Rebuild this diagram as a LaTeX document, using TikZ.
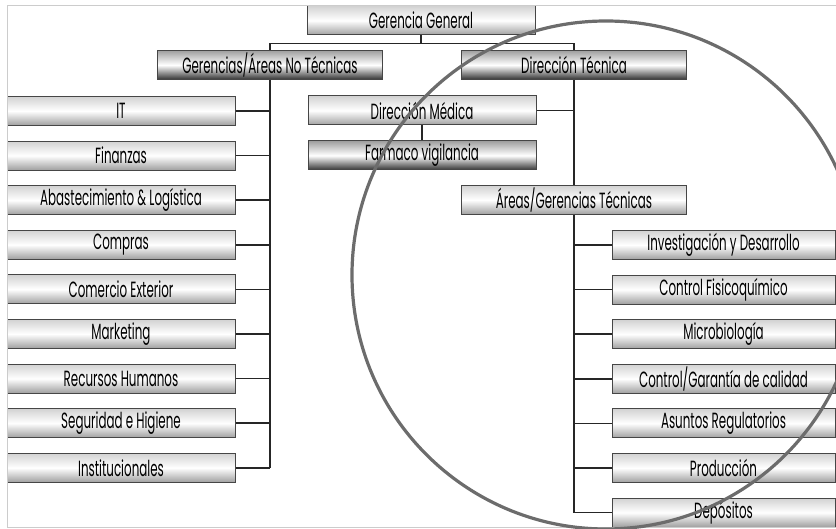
\documentclass[tikz,border=0pt]{standalone}
\usepackage{fontspec}
\newfontfamily\orgfont{Poppins}[FakeStretch=0.54]
\usetikzlibrary{positioning}

\tikzset{
	orgbox/.style={draw=gray!55!black, line width=1pt, minimum width=228pt, minimum height=29pt, inner sep=0pt,
		top color=gray!35, bottom color=gray!75, middle color=white, text=black,
		font=\orgfont\fontsize{22}{22}\selectfont},
	orgboxdark/.style={orgbox, top color=gray!75, bottom color=black!80, middle color=white},
	link/.style={line width=1.6pt, black!85},
}

\begin{document}
\begin{tikzpicture}[x=1pt,y=-1pt]
	\useasboundingbox (0,0) rectangle (836,529);
	\clip (0,0) rectangle (836,529);

	% top levels
	\node[orgbox] (gg) at (421,20.5) {Gerencia General};
	\node[orgboxdark, minimum width=225pt] (nt) at (270,65) {Gerencias/Áreas No Técnicas};
	\node[orgboxdark, minimum width=225pt] (dt) at (574,65) {Dirección Técnica};
	\draw[link] (gg.south) -- ++(0,8) coordinate (tj);
	\draw[link] (nt.north) |- (tj) -| (dt.north);

	% areas no tecnicas
	\foreach \name [count=\i] in {IT, Finanzas, Abastecimiento \& Logística, Compras, Comercio Exterior,
		Marketing, Recursos Humanos, Seguridad e Higiene, Institucionales}
	{
		\node[orgbox] (l\i) at (121,66.4+44.6*\i) {\name};
		\draw[link] (l\i.east) -- (nt.south |- l\i);
	}
	\draw[link] (nt.south) -- (nt.south |- l9);

	% direccion tecnica
	\node[orgbox] (dm) at (422,110.5) {Dirección Médica};
	\node[orgboxdark] (fv) at (422,155.5) {Farmaco vigilancia};
	\node[orgbox, minimum width=225pt] (ag) at (574,200) {Áreas/Gerencias Técnicas};
	\draw[link] (dm.south) -- (fv.north);
	\draw[link] (dm.east) -- (dm.east -| dt.south);
	\draw[link] (dt.south) -- (ag.north);

	% areas tecnicas
	\foreach \name [count=\i] in {Investigación y Desarrollo, Control Fisicoquímico, Microbiología,
		Control/Garantía de calidad, Asuntos Regulatorios, Producción, Depósitos}
	{
		\node[orgbox, minimum width=223pt] (r\i) at (723.5,200.4+44.6*\i) {\name};
		\draw[link] (r\i.west) -- (ag.south |- r\i);
	}
	\draw[link] (ag.south) -- (ag.south |- r7);

	\fill[white] (0,527.5) rectangle (836,529);
	\draw[gray!40, line width=1pt] (7,6) rectangle (850,527); % frame
	\draw[gray!85!black, line width=3.2pt] (606,275) circle[radius=254pt]; % circle
\end{tikzpicture}
\end{document}
